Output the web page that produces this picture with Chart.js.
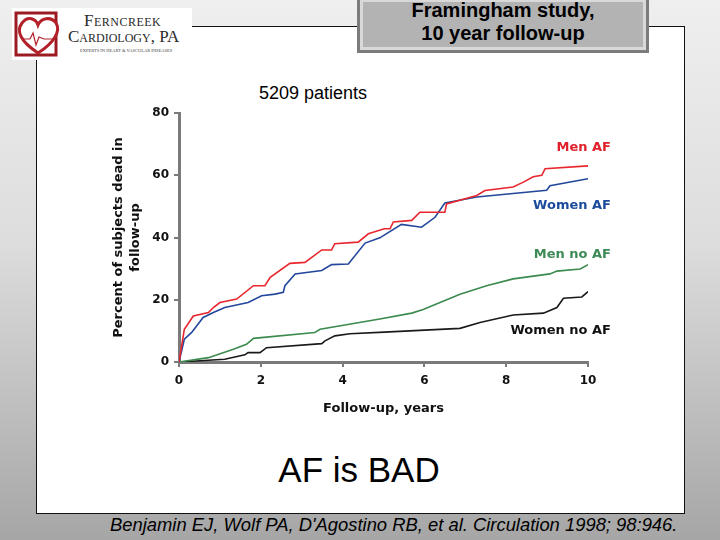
<!DOCTYPE html>
<html>
<head>
<meta charset="utf-8">
<script src="https://cdn.jsdelivr.net/npm/chart.js"></script>
<style>
  html, body { margin: 0; padding: 0; }
  body {
    width: 720px; height: 540px; position: relative; overflow: hidden;
    background: linear-gradient(to bottom, #efefef 0%, #dddddd 45%, #a6a6a6 100%);
    font-family: "Liberation Sans", Arial, sans-serif;
  }
  #slide { position: absolute; left: 36px; top: 26px; width: 647px; height: 486px; background: #fff; border: 1px solid #111; }
  #logo { position: absolute; left: 12px; top: 8px; width: 180px; height: 52px; background: #fff; z-index: 3; }
  #logo .n1 { position: absolute; left: 72px; top: 3px; font: 17px "Liberation Serif", serif; font-variant: small-caps; color: #2a2a2a; letter-spacing: 0.5px; }
  #logo .n2 { position: absolute; left: 56px; top: 19px; font: 17px "Liberation Serif", serif; font-variant: small-caps; color: #2a2a2a; }
  #logo .n3 { position: absolute; left: 68px; top: 40px; font: 4.5px "Liberation Serif", serif; color: #444; white-space: nowrap; }
  #titlebox {
    position: absolute; left: 357px; top: -4px; width: 292px; height: 57px; box-sizing: border-box;
    border: 3px solid #7c7c7c; background: #b3b3b3; box-shadow: inset 0 0 0 3px #d9d9d9;
    text-align: center; font-weight: bold; font-size: 20px; line-height: 23px; color: #000; z-index: 3;
  }
  #patients { position: absolute; left: 259px; top: 82px; font-size: 18px; line-height: 22px; color: #000; z-index: 2; }
  #bad { position: absolute; left: 0; width: 718px; top: 450px; text-align: center; font-size: 35px; line-height: 40px; color: #000; z-index: 2; }
  #cite { position: absolute; left: 110px; top: 514px; font-style: italic; font-size: 18.4px; line-height: 22px; color: #000; white-space: nowrap; z-index: 2; }
  #chart { position: absolute; left: 0; top: 0; z-index: 2; }
</style>
</head>
<body>
<div id="slide"></div>
<div id="logo">
  <svg width="52" height="50" style="position:absolute;left:2px;top:1px">
    <rect x="2" y="4" width="40" height="42" fill="#fff" stroke="#9b1b22" stroke-width="3"/>
    <path d="M24 44 C6 32 2 22 8 14 C14 6 22 10 24 16 C27 9 37 7 42 14 C47 22 40 34 24 44 Z" fill="#fff" stroke="#b3202a" stroke-width="3"/>
    <polyline points="8,30 16,30 19,24 22,36 25,28 30,30 40,30" fill="none" stroke="#b3202a" stroke-width="1.2"/>
  </svg>
  <div class="n1">Ferncreek</div>
  <div class="n2">Cardiology, PA</div>
  <div class="n3">EXPERTS IN HEART &amp; VASCULAR DISEASES</div>
</div>
<div id="titlebox">Framingham study,<br>10 year follow-up</div>
<div id="patients">5209 patients</div>
<div id="bad">AF is BAD</div>
<div id="cite">Benjamin EJ, Wolf PA, D'Agostino RB, et al. Circulation 1998; 98:946.</div>
<canvas id="chart" width="720" height="540"></canvas>

<script>
  // follow-up in years, percent dead
  const menAFYears = [0, 0.13, 0.35, 0.72, 0.84, 1.0, 1.41, 1.82, 2.1, 2.23, 2.71, 3.08, 3.49, 3.73, 3.81, 4.38, 4.63, 5.02, 5.16, 5.24, 5.69, 5.89, 6.5, 6.54, 7.28, 7.48, 8.17, 8.42, 8.66, 8.87, 8.95, 10];
  const menAF = [0, 10.5, 14.8, 15.9, 17.5, 19.1, 20.2, 24.5, 24.5, 27.2, 31.7, 32, 36, 36, 38, 38.5, 41.2, 42.8, 42.8, 45, 45.5, 48.1, 48.1, 50.8, 53.5, 55.1, 56.2, 57.8, 59.5, 60, 62.1, 63];

  const womenAFYears = [0, 0.13, 0.31, 0.59, 0.84, 1.12, 1.69, 2.02, 2.35, 2.55, 2.59, 2.84, 3.49, 3.73, 4.14, 4.55, 4.91, 5.44, 5.93, 6.26, 6.5, 7.28, 8.99, 9.07, 10];
  const womenAF = [0, 7.3, 9.5, 14.3, 15.9, 17.5, 19.1, 21.3, 21.8, 22.4, 24.5, 28.3, 29.4, 31.3, 31.5, 38.2, 39.9, 44.2, 43.3, 46.5, 51.1, 53, 55.2, 56.6, 58.9];

  const menNoAFYears = [0, 0.72, 1.33, 1.65, 1.82, 3.32, 3.45, 4.91, 5.69, 5.97, 6.87, 7.52, 8.17, 9.07, 9.24, 9.81, 10];
  const menNoAF = [0, 1.4, 4.1, 5.7, 7.6, 9.5, 10.5, 13.8, 15.7, 16.9, 21.8, 24.5, 26.7, 28.3, 29.2, 29.9, 31.3];

  const womenNoAFYears = [0, 1.12, 1.61, 1.69, 1.98, 2.14, 3.49, 3.57, 3.81, 4.18, 5.02, 6.87, 7.36, 8.17, 8.91, 9.24, 9.4, 9.85, 10];
  const womenNoAF = [0, 0.9, 2.3, 3.0, 3.0, 4.6, 5.9, 6.8, 8.4, 9.1, 9.6, 10.8, 12.7, 15.1, 15.7, 17.5, 20.5, 20.9, 22.6];

  const seriesNames = ['Men AF', 'Women AF', 'Men no AF', 'Women no AF'];

  const toPoints = (xs, ys) => xs.map((x, i) => ({ x: x, y: ys[i] }));

  const axisGray = '#7a7a7a';
  const boldFont = { family: 'DejaVu Sans', weight: 'bold', size: 12 };

  // curve names written at the right end of the plot
  const curveLabels = {
    id: 'curveLabels',
    afterDatasetsDraw(chart) {
      const { ctx, scales } = chart;
      const right = scales.x.getPixelForValue(10) + 23;
      const ys = [68.9, 50.1, 34.6, 10];
      const colors = ['#e0202a', '#1d4b9c', '#3d8a56', '#111111'];
      ctx.save();
      ctx.font = 'bold 13px "DejaVu Sans"';
      ctx.textAlign = 'right';
      ctx.textBaseline = 'middle';
      seriesNames.forEach((name, i) => {
        ctx.fillStyle = colors[i];
        ctx.fillText(name, right, scales.y.getPixelForValue(ys[i]));
      });
      ctx.restore();
    }
  };

  new Chart(document.getElementById('chart'), {
    type: 'line',
    data: {
      datasets: [
        { label: seriesNames[0], data: toPoints(menAFYears, menAF), borderColor: '#e8262d' },
        { label: seriesNames[1], data: toPoints(womenAFYears, womenAF), borderColor: '#23479b' },
        { label: seriesNames[2], data: toPoints(menNoAFYears, menNoAF), borderColor: '#3b8a4e' },
        { label: seriesNames[3], data: toPoints(womenNoAFYears, womenNoAF), borderColor: '#1a1a1a' },
      ]
    },
    options: {
      responsive: false,
      devicePixelRatio: 1,
      animation: false,
      elements: {
        line: { borderWidth: 1.6, tension: 0 },
        point: { radius: 0 }
      },
      layout: {
        padding: { left: 105, top: 113, right: 132, bottom: 118 }
      },
      plugins: {
        legend: { display: false },
        tooltip: { enabled: false }
      },
      scales: {
        x: {
          type: 'linear',
          min: 0,
          max: 10,
          ticks: { stepSize: 2, color: '#111', font: boldFont, padding: 7 },
          grid: { drawOnChartArea: false, color: axisGray, lineWidth: 2, tickLength: 5 },
          border: { color: axisGray, width: 3 },
          title: {
            display: true,
            text: 'Follow-up, years',
            color: '#111',
            font: { family: 'DejaVu Sans', weight: 'bold', size: 13 },
            padding: { top: 0, bottom: 6 }
          },
          afterFit: s => { s.height = 60; }
        },
        y: {
          min: 0,
          max: 80,
          ticks: { stepSize: 20, color: '#111', font: boldFont, padding: 5 },
          grid: { drawOnChartArea: false, color: axisGray, lineWidth: 2, tickLength: 5 },
          border: { color: axisGray, width: 3 },
          title: {
            display: true,
            text: ['Percent of subjects dead in', 'follow-up'],
            color: '#111',
            font: { family: 'DejaVu Sans', weight: 'bold', size: 13, lineHeight: 1.3 },
            padding: { top: 5, bottom: 0 }
          },
          afterFit: s => { s.width = 74; }
        }
      }
    },
    plugins: [curveLabels]
  });
</script>
</body>
</html>
